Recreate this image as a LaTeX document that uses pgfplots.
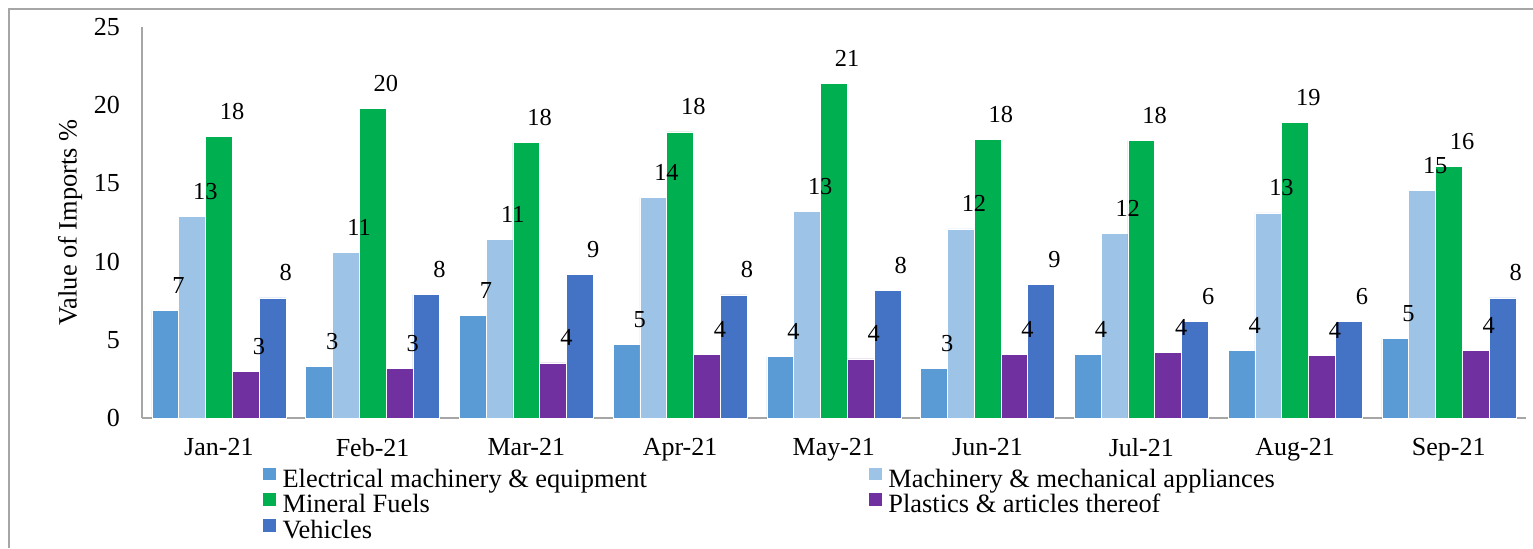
\documentclass[border=0pt]{standalone}
\usepackage{fontspec}
\setmainfont{Liberation Serif}
\usepackage{pgfplots}
\usepackage{pgfplotstable}
\pgfplotsset{compat=1.18}

\definecolor{elec}{RGB}{91,155,213}
\definecolor{mach}{RGB}{157,195,230}
\definecolor{fuel}{RGB}{0,176,80}
\definecolor{plast}{RGB}{112,48,160}
\definecolor{veh}{RGB}{68,114,196}
\definecolor{axgray}{RGB}{166,166,166}

% share of imports (%), Jan-21 .. Sep-21
\pgfplotstableread{
x  elec  mach   fuel   plast  veh
0  6.89  12.90  18.00  2.98   7.67
1  3.29  10.60  19.80  3.18   7.90
2  6.58  11.39  17.60  3.52   9.15
3  4.68  14.09  18.28  4.07   7.87
4  3.96  13.20  21.40  3.78   8.17
5  3.18  12.08  17.79  4.07   8.52
6  4.07  11.79  17.72  4.18   6.17
7  4.30  13.10  18.90  3.98   6.17
8  5.08  14.52  16.08  4.30   7.67
}\imports

\begin{document}
\begin{tikzpicture}
\useasboundingbox (-71pt,-65pt) rectangle (695.5pt,209pt);
\draw[axgray, line width=0.6pt] (-66.5pt,-65pt) -- (-66.5pt,204.5pt) -- (695.5pt,204.5pt);
\begin{axis}[
	at={(0,0)}, anchor=south west,
	scale only axis,
	width=691.85pt, height=195.65pt,
	ybar=0pt, bar width=13.4pt,
	legend image code/.code={\fill[#1] (0pt,0.8pt) rectangle (7pt,7.6pt);},
	xmin=-0.5, xmax=8.5,
	ymin=0, ymax=25,
	ytick={0,5,...,25},
	xtick=data,
	xticklabels={Jan-21,Feb-21,Mar-21,Apr-21,May-21,Jun-21,Jul-21,Aug-21,Sep-21},
	axis x line*=bottom, axis y line*=left,
	axis line style={axgray, line width=0.75pt},
	major tick length=0pt,
	clip=false,
	/pgf/number format/assume math mode=true,
	tick label style={font=\fontsize{13}{15}\selectfont},
	yticklabel style={xshift=-7.5pt},
	xticklabel style={yshift=-6.6pt},
	every axis y label/.style={at={(axis description cs:-0.052,0.5)}, rotate=90, anchor=center, font=\fontsize{13.2}{15}\selectfont},
	ylabel={Value of Imports \%},
	nodes near coords={\pgfmathprintnumber[fixed,precision=0]{\pgfplotspointmeta}},
	every node near coord/.append style={anchor=base, xshift=6.6pt, yshift=8.5pt, font=\fontsize{12.2}{14}\selectfont, black},
	legend columns=2,
	legend style={
		at={(0.0867,-0.1245)}, anchor=north west,
		draw=none, fill=none, inner sep=0pt, outer sep=0pt,
		font=\fontsize{13.2}{15}\selectfont,
		nodes={inner sep=0pt, text height=8.3pt, text depth=3.5pt},
		column sep=0pt, row sep=-0.8pt,
		/tikz/column 1/.style={column sep=3pt},
		/tikz/column 2/.style={column sep=110.5pt},
		/tikz/column 3/.style={column sep=3pt},
	},
	legend cell align=left,
]
\addplot[fill=elec, draw=white, line width=0.3pt] table[x=x, y=elec] {\imports};
\addlegendentry{Electrical machinery \& equipment}
\addplot[fill=mach, draw=white, line width=0.3pt] table[x=x, y=mach] {\imports};
\addlegendentry{Machinery \& mechanical appliances}
\addplot[fill=fuel, draw=white, line width=0.3pt] table[x=x, y=fuel] {\imports};
\addlegendentry{Mineral Fuels}
\addplot[fill=plast, draw=white, line width=0.3pt] table[x=x, y=plast] {\imports};
\addlegendentry{Plastics \& articles thereof}
\addplot[fill=veh, draw=white, line width=0.3pt] table[x=x, y=veh] {\imports};
\addlegendentry{Vehicles}
\end{axis}
\end{tikzpicture}
\end{document}
